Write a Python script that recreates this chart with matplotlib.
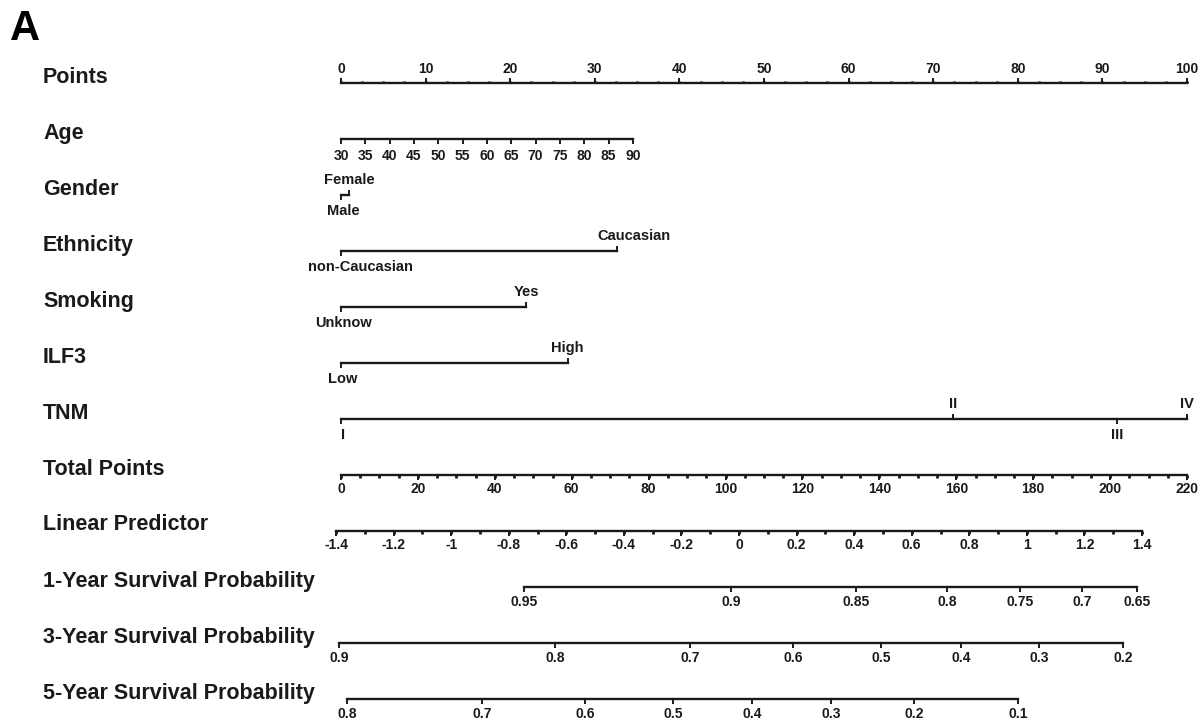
import numpy as np
from matplotlib import pyplot as plt

# nomogram values (positions are in "Points" units 0-100)
row_names = ['Points', 'Age', 'Gender', 'Ethnicity', 'Smoking', 'ILF3', 'TNM',
             'Total Points', 'Linear Predictor', '1-Year Survival Probability',
             '3-Year Survival Probability', '5-Year Survival Probability']

points_major = np.arange(0, 101, 10)
points_minor = np.arange(0, 100.1, 2.5)

age_values = [30, 35, 40, 45, 50, 55, 60, 65, 70, 75, 80, 85, 90]
age_max_points = 34.5   # points given to age 90 (age 30 -> 0)

gender_levels = ['Male', 'Female']
gender_points = [0, 1.0]
ethnicity_levels = ['non-Caucasian', 'Caucasian']
ethnicity_points = [0, 32.6]
smoking_levels = ['Unknow', 'Yes']
smoking_points = [0, 21.9]
ilf3_levels = ['Low', 'High']
ilf3_points = [0, 26.8]
tnm_levels = ['I', 'II', 'III', 'IV']
tnm_points = [0, 72.3, 91.7, 100]
tnm_sides = ['below', 'above', 'below', 'above']

total_max = 220
total_major = np.arange(0, 221, 20)
total_minor = np.arange(0, 221, 5)

lp_major = np.round(np.arange(-1.4, 1.41, 0.2), 1)
lp_minor = np.round(np.arange(-1.4, 1.41, 0.1), 1)
lp_ends_total = (-1.3, 208.3)   # total points where LP = -1.4 and LP = 1.4

surv1_probs = ['0.95', '0.9', '0.85', '0.8', '0.75', '0.7', '0.65']
surv1_total = [47.6, 101.4, 133.9, 157.6, 176.6, 192.7, 207.0]
surv3_probs = ['0.9', '0.8', '0.7', '0.6', '0.5', '0.4', '0.3', '0.2']
surv3_total = [-0.5, 55.7, 90.8, 117.6, 140.4, 161.2, 181.5, 203.4]
surv5_probs = ['0.8', '0.7', '0.6', '0.5', '0.4', '0.3', '0.2', '0.1']
surv5_total = [1.6, 36.7, 63.5, 86.3, 106.9, 127.4, 149.0, 176.1]

# ---- layout helpers ----
W, H = 1204, 727
x0_px, px_per_point = 341, 8.46
row0_px, row_step = 83, 56
ink = '#1a1a1a'
lw = 1.7
font = 'Liberation Sans'
tick_fs = 10
cat_fs = 10.5


def px(v):
    return v / row_step  # pixel -> row units


def tot2pts(t):
    return np.asarray(t, dtype=float) * 100 / total_max


fig = plt.figure(figsize=(W / 100, H / 100), dpi=100)
ax = fig.add_axes([0, 0, 1, 1])
ax.set_xlim(-x0_px / px_per_point, (W - x0_px) / px_per_point)
ax.set_ylim((H - row0_px) / row_step, -row0_px / row_step)
ax.axis('off')


def hline(row, a, b):
    ax.plot([a, b], [row, row], color=ink, lw=lw, solid_capstyle='projecting')


def ticks(row, xs, length, up=False, w=1.4):
    s = -1 if up else 1
    for x in xs:
        ax.plot([x, x], [row, row + s * px(length)], color=ink, lw=w, solid_capstyle='butt')


def labels(row, xs, texts, offset, fs=tick_fs, dx=0):
    for x, t in zip(xs, texts):
        ax.text(x + dx / px_per_point, row + px(offset), t, ha='center', va='center',
                fontsize=fs, fontweight='bold', family=font, color=ink)


def fmt(v):
    s = f"{v:g}"
    return '0' if s == '-0' else s


# row titles
for i, name in enumerate(row_names):
    ax.text(43 / W, i - px(6), name, transform=ax.get_yaxis_transform(),
            ha='left', va='center', fontsize=15.5, fontweight='bold', family=font, color=ink)

fig.text(10 / W, 1 - 40 / H, 'A', fontsize=30, fontweight='bold', family=font, va='baseline')

# Points (ticks and labels above)
r = 0
hline(r, 0, 100)
ticks(r, points_minor, 2.5, up=True, w=2)
ticks(r, points_major, 5, up=True)
labels(r, points_major, [fmt(v) for v in points_major], -14)

# Age
r = 1
age_pos = [(a - age_values[0]) / (age_values[-1] - age_values[0]) * age_max_points for a in age_values]
hline(r, age_pos[0], age_pos[-1])
ticks(r, age_pos, 5)
labels(r, age_pos, [str(a) for a in age_values], 17)

# categorical rows
cat_rows = [(2, gender_levels, gender_points, ['below', 'above'], 0),
            (3, ethnicity_levels, ethnicity_points, ['below', 'above'], 17),
            (4, smoking_levels, smoking_points, ['below', 'above'], 0),
            (5, ilf3_levels, ilf3_points, ['below', 'above'], 0),
            (6, tnm_levels, tnm_points, tnm_sides, 0)]
for r, levels, pts, sides, shift in cat_rows:
    hline(r, min(pts), max(pts))
    for lev, p, side in zip(levels, pts, sides):
        up = side == 'above'
        ticks(r, [p], 5, up=up)
        labels(r, [p], [lev], -15 if up else 16, fs=cat_fs,
               dx=shift + (2 if not up and p == 0 else 0))

# Total Points
r = 7
hline(r, 0, 100)
ticks(r, tot2pts(total_minor), 2.5, w=2)
ticks(r, tot2pts(total_major), 5)
labels(r, tot2pts(total_major), [str(v) for v in total_major], 14)

# Linear Predictor
r = 8
lp_a, lp_b = tot2pts(lp_ends_total)


def lp2pts(v):
    return lp_a + (np.asarray(v) - lp_major[0]) / (lp_major[-1] - lp_major[0]) * (lp_b - lp_a)


hline(r, lp_a, lp_b)
ticks(r, lp2pts(lp_minor), 2.5, w=2)
ticks(r, lp2pts(lp_major), 5)
labels(r, lp2pts(lp_major), [fmt(v) for v in lp_major], 14)

# survival rows
for r, probs, tot in [(9, surv1_probs, surv1_total),
                      (10, surv3_probs, surv3_total),
                      (11, surv5_probs, surv5_total)]:
    xs = tot2pts(tot)
    hline(r, xs[0], xs[-1])
    ticks(r, xs, 5)
    labels(r, xs, probs, 15)

plt.savefig('out.png', dpi=100)
